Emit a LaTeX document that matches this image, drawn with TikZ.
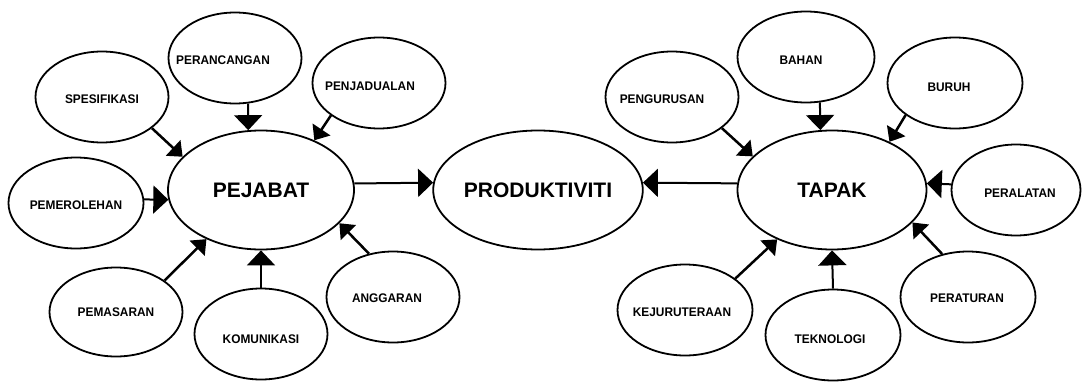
\documentclass[tikz,border=0pt]{standalone}
\usepackage{fontspec}
\setmainfont{Liberation Sans}
\usetikzlibrary{arrows.meta,shapes.geometric}
\newcommand{\lbl}[3]{\makebox[0pt]{\kern#1\relax\raisebox{#2}{#3}}}
\begin{document}
\begin{tikzpicture}[x=1pt,y=-1pt,
  bub/.style={draw,ellipse,line width=1.8pt,minimum width=133pt,minimum height=91pt,inner sep=0pt,
    font=\bfseries\fontsize{12.5}{12.5}\selectfont,text height=9pt,text depth=0pt},
  big/.style={draw,ellipse,line width=1.8pt,minimum width=186pt,minimum height=119pt,inner sep=0pt,
    font=\bfseries\fontsize{21}{21}\selectfont},
  arr/.style={line width=2pt,-{Triangle[length=15pt,width=28pt]}},
  darr/.style={line width=2.5pt,-{Triangle[length=13pt,width=21pt]}}]
\useasboundingbox (0,0) rectangle (1082,388);
\fill[white] (0,0) rectangle (1082,388);
% central nodes
\node[big] (pej) at (261,190) {PEJABAT};
\node[big] (pro) at (538,190) {PRODUKTIVITI};
\node[big,minimum width=189pt] (tap) at (832,190) {TAPAK};
% left satellites
\node[bub] (perc) at (235,58) {\lbl{-24pt}{-2pt}{\scalebox{0.95}[1]{PERANCANGAN}}};
\node[bub] (spes) at (102,97) {\lbl{0pt}{-2pt}{\scalebox{0.95}[1]{SPESIFIKASI}}};
\node[bub] (penj) at (379,83) {\lbl{-18pt}{-3pt}{\scalebox{0.95}[1]{PENJADUALAN}}};
\node[bub,minimum width=135pt] (pemr) at (76,203) {\lbl{0pt}{-2pt}{\scalebox{0.95}[1]{PEMEROLEHAN}}};
\node[bub,minimum height=89pt] (pems) at (116,312) {\lbl{0pt}{0pt}{\scalebox{0.95}[1]{PEMASARAN}}};
\node[bub] (komu) at (261,334) {\lbl{0pt}{-5pt}{\scalebox{0.95}[1]{KOMUNIKASI}}};
\node[bub] (angg) at (393,297) {\lbl{-12pt}{-1pt}{\scalebox{0.95}[1]{ANGGARAN}}};
% right satellites
\node[bub,minimum width=137pt] (baha) at (806,57) {\lbl{-10pt}{-3pt}{\scalebox{0.95}[1]{BAHAN}}};
\node[bub] (peng) at (672,97) {\lbl{-20pt}{-2pt}{\scalebox{0.95}[1]{PENGURUSAN}}};
\node[bub,minimum width=135pt] (buru) at (955,83) {\lbl{-12pt}{-4pt}{\scalebox{0.95}[1]{BURUH}}};
\node[bub,minimum width=129pt] (pera) at (1016,190) {\lbl{8pt}{-3pt}{\scalebox{0.95}[1]{PERALATAN}}};
\node[bub,minimum width=135pt] (keju) at (685,310) {\lbl{-6pt}{-2pt}{\scalebox{0.95}[1]{KEJURUTERAAN}}};
\node[bub,minimum width=135pt] (tekn) at (833,335) {\lbl{-6pt}{-4pt}{\scalebox{0.95}[1]{TEKNOLOGI}}};
\node[bub,minimum width=135pt] (perr) at (968,297) {\lbl{-2pt}{-1pt}{\scalebox{0.95}[1]{PERATURAN}}};
% connectors left
\draw[arr] (perc.-74) -- (pej.102);
\draw[darr] (spes.-32) -- (pej.157);
\draw[darr] (penj.214) -- (pej.43);
\draw[arr] (pemr.3) -- (pej.186);
\draw[darr] (pems.33) -- (pej.222);
\draw[arr] (komu.north) -- (pej.south);
\draw[darr] (angg.119) -- (pej.-23);
\draw[arr] (pej.4) -- (pro.176);
% connectors right
\draw[arr] (tap.176) -- (pro.4);
\draw[arr] (baha.-73) -- (tap.101);
\draw[darr] (peng.-32) -- (tap.157);
\draw[darr] (buru.213) -- (tap.40);
\draw[arr] (pera.175) -- (tap.4);
\draw[darr] (keju.32) -- (tap.222);
\draw[arr] (tekn.north) -- (tap.south);
\draw[darr] (perr.121) -- (tap.-22);
\end{tikzpicture}
\end{document}
